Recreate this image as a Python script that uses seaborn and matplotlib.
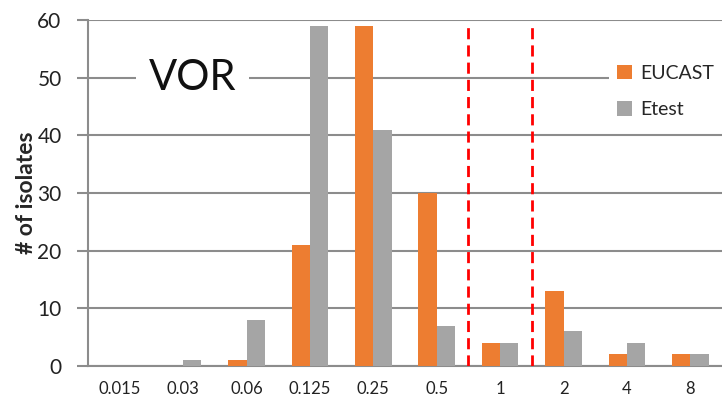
import matplotlib
matplotlib.use("Agg")
import matplotlib.pyplot as plt
import seaborn as sns
import pandas as pd

# MIC distribution of voriconazole
mic_labels = ["0.015", "0.03", "0.06", "0.125", "0.25", "0.5", "1", "2", "4", "8"]
eucast = [0, 0, 1, 21, 59, 30, 4, 13, 2, 2]
etest = [0, 1, 8, 59, 41, 7, 4, 6, 4, 2]
methods = ["EUCAST", "Etest"]
colors = ["#ED7D31", "#A5A5A5"]
breakpoints = [5.5, 6.5]

df = pd.DataFrame({
    "MIC": mic_labels * 2,
    "count": eucast + etest,
    "method": [methods[0]] * len(mic_labels) + [methods[1]] * len(mic_labels),
})

sns.set_theme(style="white")
plt.rcParams["font.family"] = ["Lato", "DejaVu Sans"]

fig = plt.figure(figsize=(7.22, 3.97), dpi=100)
ax = fig.add_axes([88 / 722, 1 - 366 / 397, 1 - 88 / 722, (366 - 20) / 397])

grid_c = "#8C8C8C"
sns.barplot(data=df, x="MIC", y="count", hue="method", order=mic_labels,
            hue_order=methods, palette=colors, width=0.58, saturation=1,
            linewidth=0, edgecolor="none", ax=ax, zorder=3)

ax.set_ylim(0, 60)
ax.set_xlim(-0.5, 9.5)
ax.set_yticks(range(0, 61, 10))
ax.yaxis.grid(True, color=grid_c, linewidth=1.5, zorder=0)
ax.set_axisbelow(True)
for side in ["top", "right"]:
    ax.spines[side].set_visible(False)
for side in ["left", "bottom"]:
    ax.spines[side].set_color(grid_c)
    ax.spines[side].set_linewidth(1.5)
ax.tick_params(axis="y", which="both", left=True, length=8, width=1.5,
               color=grid_c, labelsize=15, pad=11, labelcolor="#222222")
ax.tick_params(axis="x", bottom=False, labelsize=12, pad=5,
               labelcolor="#222222")
ax.set_xlabel("")
ax.set_ylabel("# of isolates", fontsize=16.5, fontweight="bold")
ax.yaxis.set_label_coords(-0.08, 0.5)

for bp in breakpoints:
    ax.vlines(bp, 0, 59, colors="#FF0000", linestyles=(0, (4, 2.2)),
              linewidth=2, zorder=4)

ax.text(1.15, 50, "VOR", fontsize=30, ha="center", va="center", zorder=5,
        color="#111111",
        bbox=dict(boxstyle="square,pad=0.3", facecolor="white",
                  edgecolor="none"))

handles, labels = ax.get_legend_handles_labels()
leg = ax.legend(handles, labels, loc="upper left",
                bbox_to_anchor=(0.822, 0.893), frameon=True, fancybox=False,
                facecolor="white", edgecolor="none", framealpha=1,
                fontsize=14, handlelength=0.75, handleheight=0.75,
                handletextpad=0.45, labelspacing=1.0, borderpad=0.4,
                borderaxespad=0)
leg.set_zorder(6)

fig.savefig("out.png", dpi=100)
